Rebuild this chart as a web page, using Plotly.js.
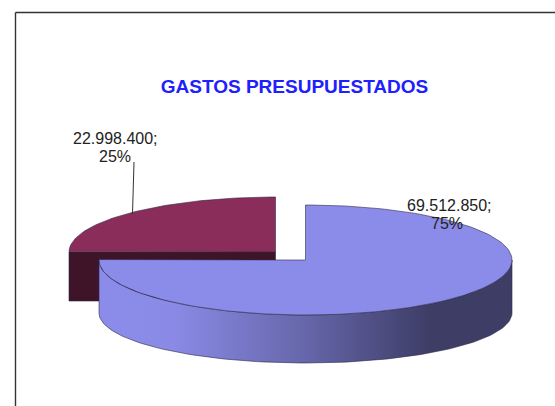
<!DOCTYPE html>
<html>
<head>
<meta charset="utf-8">
<script src="https://cdn.plot.ly/plotly-3.0.1.min.js"></script>
<style>html,body{margin:0;padding:0;background:#fff;overflow:hidden}#c{width:555px;height:406px}</style>
</head>
<body>
<div id="c"></div>
<script>
const categories = ["Presupuesto A", "Presupuesto B"];
const values = [69512850, 22998400];
const topColors = ["#8b8bea", "#8a2d5a"];
const titleText = "GASTOS PRESUPUESTADOS";
const fontFamily = "'Liberation Sans', Arial, sans-serif";

const W = 555, H = 406;
const rx = 206.5, ry = 55, depth = 53, lowerRy = 50;
const centers = [[305.5, 260], [275.5, 252]];
const edge = "rgba(45,40,70,0.75)";

const total = values[0] + values[1];
const splitDeg = values[0] / total * 360;

function arc(c, from, to, dy, r) {
  const xs = [], ys = [], n = Math.max(8, Math.round(Math.abs(to - from) / 1.5));
  for (let i = 0; i <= n; i++) {
    const t = (from + (to - from) * i / n) * Math.PI / 180;
    xs.push(c[0] + rx * Math.sin(t));
    ys.push(c[1] - (r || ry) * Math.cos(t) + (dy || 0));
  }
  return {xs, ys};
}
function poly(xs, ys, fill, extra) {
  return Object.assign({
    type: "scatter", mode: "lines", x: xs, y: ys, fill: "toself", fillcolor: fill,
    line: {color: edge, width: 0.8}, hoverinfo: "skip", showlegend: false
  }, extra || {});
}
function label(v) {
  return String(v).replace(/\B(?=(\d{3})+$)/g, ".") + ";";
}
function pct(v) { return Math.round(v / total * 100) + "%"; }

const traces = [];
// red slice: cut face, then top
const rc = centers[1];
const redArc = arc(rc, splitDeg, 360);
const lx = rc[0] - rx;
traces.push(poly([lx, rc[0], rc[0], lx, lx], [rc[1], rc[1], rc[1] + 49, rc[1] + 49, rc[1]], "#3f1328"));
traces.push(poly([rc[0]].concat(redArc.xs, [rc[0]]), [rc[1]].concat(redArc.ys, [rc[1]]), topColors[1]));
// blue slice: wall with horizontal gradient, then top
const bc = centers[0];
const upper = arc(bc, 90, Math.min(splitDeg, 270));
const lower = arc(bc, Math.min(splitDeg, 270), 90, depth, lowerRy);
traces.push({
  type: "scatter", mode: "lines",
  x: upper.xs.concat(lower.xs, [upper.xs[0]]), y: upper.ys.concat(lower.ys, [upper.ys[0]]),
  fill: "toself",
  fillgradient: {type: "horizontal", colorscale: [
    [0, "#8b8bea"], [0.18, "#8a8ae6"], [0.5, "#6666aa"], [0.80, "#3d3d66"], [1, "#3d3d66"]
  ]},
  line: {color: edge, width: 0.8}, hoverinfo: "skip", showlegend: false
});
const blueArc = arc(bc, 0, splitDeg);
traces.push(poly([bc[0]].concat(blueArc.xs, [bc[0]]), [bc[1]].concat(blueArc.ys, [bc[1]]), topColors[0]));
// leader line
traces.push({type: "scatter", mode: "lines", x: [134, 132.5], y: [162, 214],
  line: {color: "#333", width: 1}, hoverinfo: "skip", showlegend: false});

function ann(x, y, text) {
  return {xref: "x", yref: "y", x, y, text, showarrow: false, xanchor: "center", yanchor: "middle",
    font: {family: fontFamily, size: 16, color: "#222"}};
}
const annotations = [
  ann(115, 138, label(values[1])), ann(115, 156, pct(values[1])),
  ann(449, 205, label(values[0])), ann(447, 223, pct(values[0]))
];

const layout = {
  width: W, height: H, margin: {l: 0, r: 0, t: 0, b: 0},
  paper_bgcolor: "#fff", plot_bgcolor: "#fff", showlegend: false, hovermode: false,
  title: {text: "<b>" + titleText + "</b>", x: 294.5 / W, y: 1 - 86 / H, xref: "paper", yref: "paper",
    xanchor: "center", yanchor: "middle", font: {family: fontFamily, size: 19, color: "#2020ff"}},
  xaxis: {range: [0, W], visible: false, fixedrange: true},
  yaxis: {range: [H, 0], visible: false, fixedrange: true},
  annotations,
  shapes: [
    {type: "line", xref: "x", yref: "y", x0: 15.5, x1: 15.5, y0: 12.5, y1: H, line: {color: "#333", width: 1.4}},
    {type: "line", xref: "x", yref: "y", x0: 15.5, x1: W, y0: 12.5, y1: 12.5, line: {color: "#333", width: 1.4}}
  ]
};
Plotly.newPlot("c", traces, layout, {displayModeBar: false, staticPlot: true});
</script>
</body>
</html>
